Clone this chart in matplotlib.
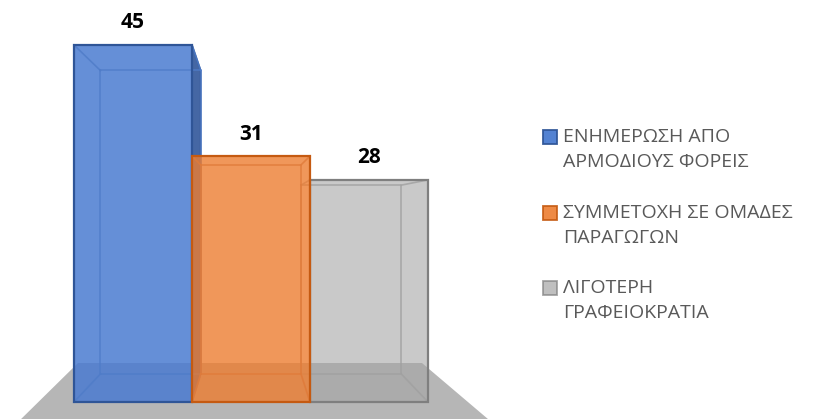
import matplotlib
matplotlib.use("Agg")
import matplotlib.pyplot as plt
from matplotlib.patches import Polygon, Rectangle

categories = ["ΕΝΗΜΕΡΩΣΗ ΑΠΟ\nΑΡΜΟΔΙΟΥΣ ΦΟΡΕΙΣ",
              "ΣΥΜΜΕΤΟΧΗ ΣΕ ΟΜΑΔΕΣ\nΠΑΡΑΓΩΓΩΝ",
              "ΛΙΓΟΤΕΡΗ\nΓΡΑΦΕΙΟΚΡΑΤΙΑ"]
values = [45, 31, 28]
labels = ["45", "31", "28"]

face_colors = ["#4a7bd0", "#ED7D31", "#A5A5A5"]
alphas = [0.85, 0.8, 0.6]
edge_colors = ["#2f5597", "#c55a11", "#7f7f7f"]
inner_colors = ["#4f7cc8", "#e07b3a", "#a0a0a0"]

W, H = 814, 419
fig = plt.figure(figsize=(W / 100, H / 100), dpi=100)
ax = fig.add_axes([0, 0, 1, 1])
ax.axis("off")

# pixel <-> data mapping
X0, XS = 133.0, 118.0
Y0, YS = 402.0, (402.0 - 45.0) / 45.0


def px(x):
    return (x - X0) / XS


def py(y):
    return (Y0 - y) / YS


ax.set_xlim(px(0), px(W))
ax.set_ylim(py(H), py(0))

# floor
floor = Polygon([(px(15), py(425)), (px(495), py(425)), (px(422), py(363)), (px(78), py(363))],
                closed=True, facecolor="#b6b6b6", edgecolor="none", zorder=1)
ax.add_patch(floor)

# vanishing point for the box back faces
vx, vy, s = px(250), py(215), 0.85
bw = 1.0
order = [0, 2, 1]
z = {0: 2, 2: 3, 1: 4}
label_gap = 22.0 / YS
for i in order:
    v = values[i]
    zz = z[i]
    ax.bar([i], [v], width=bw, color=face_colors[i], alpha=alphas[i],
           edgecolor="none", zorder=zz)
    x_l, x_r = i - bw / 2, i + bw / 2
    bl = vx + s * (x_l - vx)
    br = vx + s * (x_r - vx)
    bt = vy + s * (v - vy)
    bb = vy + s * (0 - vy)
    # side face for bars left of vanishing point (right side visible)
    if br > x_r:
        side = Polygon([(x_r, v), (br, bt), (br, bb), (x_r, 0)], closed=True,
                       facecolor="#3b5f9f", edgecolor="none", alpha=0.95, zorder=zz)
        ax.add_patch(side)
        ax.plot([x_r, br, br], [v, bt, bb], color=edge_colors[i], lw=1.2, zorder=zz + 0.1)
    # back face lines
    ax.plot([bl, br, br, bl, bl], [bt, bt, bb, bb, bt], color=inner_colors[i],
            lw=1.2, alpha=0.8, zorder=zz + 0.1)
    # connecting diagonals
    for (fx, fy), (kx, ky) in [((x_l, v), (bl, bt)), ((x_r, v), (br, bt)),
                               ((x_l, 0), (bl, bb)), ((x_r, 0), (br, bb))]:
        ax.plot([fx, kx], [fy, ky], color=inner_colors[i], lw=1.2, alpha=0.8, zorder=zz + 0.1)
    # front face outline
    ax.add_patch(Rectangle((x_l, 0), bw, v, facecolor="none", edgecolor=edge_colors[i],
                           lw=1.6, zorder=zz + 0.2))
    ax.text(i, v + label_gap, labels[i], ha="center", va="center",
            fontsize=15, fontweight="bold", family="Open Sans", color="black", zorder=10)

# legend (drawn manually)
leg_y = [137, 213, 288]
line_gap = 25
for i, cat in enumerate(categories):
    yc = leg_y[i]
    ax.add_patch(Rectangle((px(543), py(yc + 7)), px(557) - px(543), py(yc - 7) - py(yc + 7),
                           facecolor=face_colors[i], alpha=min(1.0, alphas[i] + 0.1),
                           edgecolor=edge_colors[i], lw=1.3, zorder=10))
    for j, line in enumerate(cat.split("\n")):
        ax.text(px(563), py(yc + j * line_gap), line, ha="left", va="center",
                fontsize=14, family="Open Sans", color="#595959", zorder=10)

fig.savefig("out.png", dpi=100, facecolor="white")
